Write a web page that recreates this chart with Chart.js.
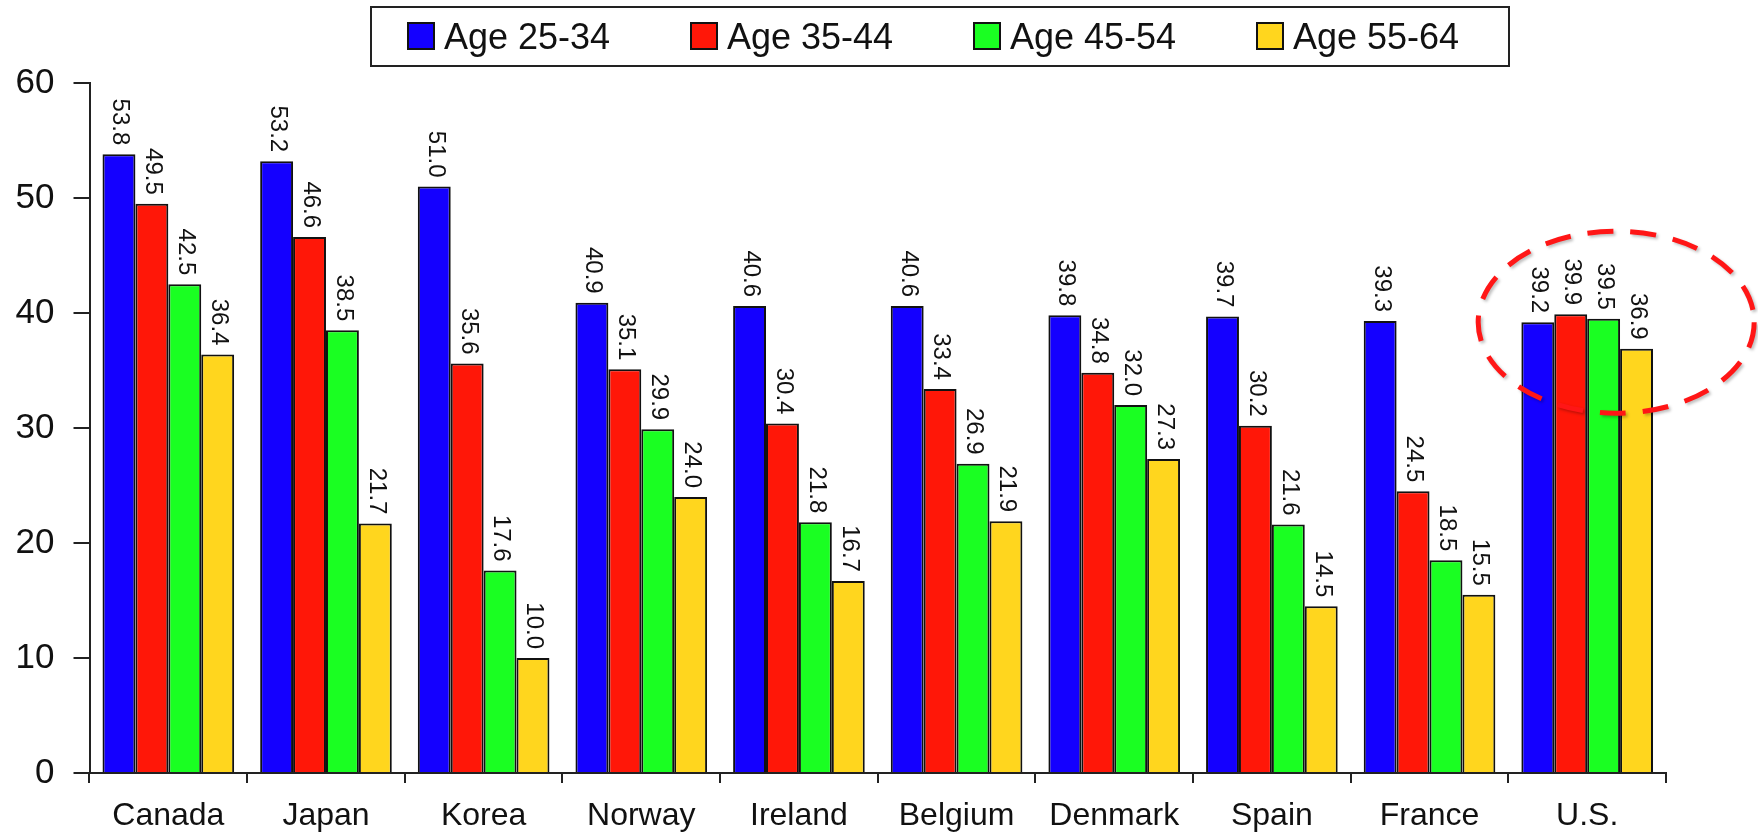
<!DOCTYPE html>
<html>
<head>
<meta charset="utf-8">
<title>Share of adults with tertiary education by age group</title>
<script src="https://cdn.jsdelivr.net/npm/chart.js@4/dist/chart.umd.min.js"></script>
<style>
  html, body { margin: 0; padding: 0; background: #fff; }
  #eduChart { display: block; }
</style>
</head>
<body>
<canvas id="eduChart" width="1758" height="839"></canvas>
<script>
// --- data ---
var countries = ['Canada', 'Japan', 'Korea', 'Norway', 'Ireland', 'Belgium', 'Denmark', 'Spain', 'France', 'U.S.'];
var age25to34 = [53.8, 53.2, 51.0, 40.9, 40.6, 40.6, 39.8, 39.7, 39.3, 39.2];
var age35to44 = [49.5, 46.6, 35.6, 35.1, 30.4, 33.4, 34.8, 30.2, 24.5, 39.9];
var age45to54 = [42.5, 38.5, 17.6, 29.9, 21.8, 26.9, 32.0, 21.6, 18.5, 39.5];
var age55to64 = [36.4, 21.7, 10.0, 24.0, 16.7, 21.9, 27.3, 14.5, 15.5, 36.9];
var seriesLabels = ['Age 25-34', 'Age 35-44', 'Age 45-54', 'Age 55-64'];
var seriesColors = ['#1400ff', '#ff1708', '#1aff22', '#ffd61e'];
var yMin = 0;
var yMax = 60;
var yStep = 10;
var highlightCountry = 'U.S.';

var FONT = '"Liberation Sans", Arial, Helvetica, sans-serif';
var INK = '#111111';

// rotated value labels above every bar
var barValueLabels = {
   id: 'barValueLabels',
   afterDatasetsDraw: function(chart) {
      var ctx = chart.ctx;
      ctx.save();
      ctx.font = '24px ' + FONT;
      ctx.fillStyle = INK;
      ctx.textAlign = 'right';
      ctx.textBaseline = 'middle';
      chart.data.datasets.forEach(function(dataset, i) {
         chart.getDatasetMeta(i).data.forEach(function(bar, j) {
            ctx.save();
            ctx.translate(bar.x + 1, bar.y - 9);
            ctx.rotate(Math.PI / 2);
            ctx.fillText(dataset.data[j].toFixed(1), 0, 0);
            ctx.restore();
         });
      });
      ctx.restore();
   }
};

// dashed red ring round the highlighted country
var highlightRing = {
   id: 'highlightRing',
   afterDatasetsDraw: function(chart) {
      var ctx = chart.ctx;
      var xScale = chart.scales.x;
      var yScale = chart.scales.y;
      var cx = xScale.getPixelForValue(countries.indexOf(highlightCountry)) + 29;
      var cy = yScale.getPixelForValue(39.2);
      ctx.save();
      ctx.beginPath();
      ctx.ellipse(cx, cy, 138, 91, 0, 0, 2 * Math.PI);
      ctx.setLineDash([26, 17]);
      ctx.lineWidth = 5;
      ctx.strokeStyle = '#ff1616';
      ctx.shadowColor = 'rgba(0,0,0,0.25)';
      ctx.shadowBlur = 3;
      ctx.shadowOffsetX = 2;
      ctx.shadowOffsetY = 2;
      ctx.stroke();
      ctx.restore();
   }
};

// boxed legend along the top
var boxedLegend = {
   id: 'boxedLegend',
   afterDraw: function(chart) {
      var ctx = chart.ctx;
      var box = {left: 371, top: 7, right: 1509, bottom: 66};
      var firstSwatch = 408;
      var itemStep = 283;
      var swatch = 26;
      ctx.save();
      ctx.lineWidth = 2;
      ctx.strokeStyle = '#222';
      ctx.strokeRect(box.left, box.top, box.right - box.left, box.bottom - box.top);
      ctx.font = '36px ' + FONT;
      ctx.textBaseline = 'alphabetic';
      ctx.textAlign = 'left';
      chart.data.datasets.forEach(function(dataset, i) {
         var x = firstSwatch + i * itemStep;
         ctx.fillStyle = dataset.backgroundColor;
         ctx.fillRect(x, 23, swatch, swatch);
         ctx.lineWidth = 2;
         ctx.strokeStyle = '#111';
         ctx.strokeRect(x, 23, swatch, swatch);
         ctx.fillStyle = INK;
         ctx.fillText(dataset.label, x + swatch + 10, 49);
      });
      ctx.restore();
   }
};

var seriesValues = [age25to34, age35to44, age45to54, age55to64];

var chartConfig = {
   type: 'bar',
   data: {
      labels: countries,
      datasets: seriesValues.map(function(values, i) {
         return {
            label: seriesLabels[i],
            data: values,
            backgroundColor: seriesColors[i],
            borderColor: '#111',
            borderWidth: 2,
            categoryPercentage: 0.835,
            barPercentage: 1.0
         };
      })
   },
   options: {
      responsive: false,
      animation: false,
      devicePixelRatio: 1,
      layout: {
         padding: {left: 0, right: 92, top: 83, bottom: 0}
      },
      scales: {
         x: {
            grid: {
               offset: true,
               drawOnChartArea: false,
               tickLength: 10,
               color: '#222',
               lineWidth: 2
            },
            border: {display: true, color: '#222', width: 2},
            ticks: {
               font: {family: FONT, size: 32},
               color: INK,
               padding: 14,
               maxRotation: 0
            },
            afterFit: function(scale) {
               scale.height = 66;
            }
         },
         y: {
            min: yMin,
            max: yMax,
            grid: {
               drawOnChartArea: false,
               tickLength: 16,
               color: '#222',
               lineWidth: 2
            },
            border: {display: true, color: '#222', width: 2},
            ticks: {
               stepSize: yStep,
               font: {family: FONT, size: 35},
               color: INK,
               padding: 19
            },
            afterFit: function(scale) {
               scale.width = 89.5;
            }
         }
      },
      plugins: {
         legend: {display: false},
         tooltip: {enabled: false}
      }
   },
   plugins: [barValueLabels, highlightRing, boxedLegend]
};

var chart = new Chart(document.getElementById('eduChart'), chartConfig);
</script>
</body>
</html>
